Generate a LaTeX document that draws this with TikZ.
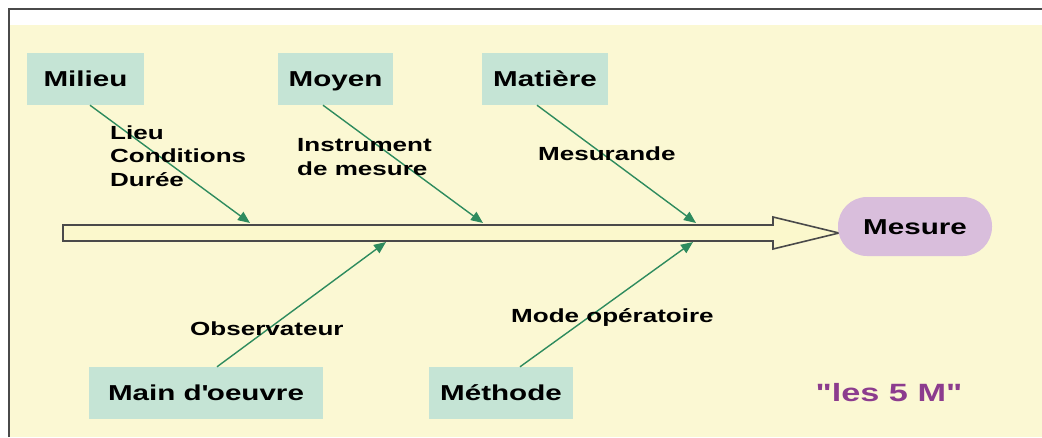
\documentclass[tikz,border=0pt]{standalone}
\usepackage{fontspec}
\usetikzlibrary{arrows.meta}
\newfontfamily\lbl{Liberation Sans}[FakeStretch=1.37]
\definecolor{bgyellow}{HTML}{FBF8D3}
\definecolor{boxfill}{HTML}{C5E4D5}
\definecolor{pillfill}{HTML}{D9BEDC}
\definecolor{linkgreen}{HTML}{2E8B5E}
\definecolor{titlepurple}{HTML}{8C3C8E}
\definecolor{framegray}{HTML}{4A4A4A}
\definecolor{spinefill}{HTML}{FBF8CC}
\begin{document}
\begin{tikzpicture}[x=1pt,y=-1pt,
  cause/.style={fill=boxfill, minimum height=52pt, inner sep=0pt,
    text height=15.5pt, text depth=0pt,
    font=\lbl\bfseries\fontsize{21.6}{26}\selectfont},
  effect/.style={fill=pillfill, rounded corners=29pt, minimum width=154pt,
    minimum height=59pt, inner sep=0pt, text height=15.5pt, text depth=0pt,
    font=\lbl\bfseries\fontsize{21.6}{26}\selectfont},
  note/.style={font=\lbl\bfseries\fontsize{19}{23.5}\selectfont,
    align=left, inner sep=0pt, anchor=base west},
  link/.style={draw=linkgreen, line width=1.4pt,
    -{Triangle[length=12pt,width=10pt]}},
  spine/.style={draw=framegray, line width=1.6pt, fill=spinefill},
]
\useasboundingbox (0,0) rectangle (1042,437);
% page background and frame
\fill[bgyellow] (10,25) rectangle (1042,437);
\draw[framegray, line width=1.8pt] (9,437) -- (9,9) -- (1042,9);

% main spine arrow
\draw[spine] (63,225) -- (773,225) -- (773,217) -- (839,233)
  -- (773,249) -- (773,241) -- (63,241) -- cycle;
\coordinate (tMilieu) at (250,223);
\coordinate (tMoyen) at (483,223);
\coordinate (tMatiere) at (696,223);
\coordinate (tMain) at (386,242);
\coordinate (tMethode) at (693,242);

% causes
\node[cause, minimum width=117pt] (milieu) at (85.5,79) {Milieu};
\node[cause, minimum width=115pt] (moyen) at (335.5,79) {Moyen};
\node[cause, minimum width=126pt] (matiere) at (545,79) {Matière};
\node[cause, minimum width=234pt] (mainoeuvre) at (206,393) {Main d\textquotesingle oeuvre};
\node[cause, minimum width=144pt] (methode) at (501,393) {Méthode};

% effect
\node[effect] (mesure) at (915,226.5) {Mesure};

% branches
\draw[link] ([xshift=4.5pt]milieu.south) -- (tMilieu);
\draw[link] ([xshift=-12.5pt]moyen.south) -- (tMoyen);
\draw[link] ([xshift=-8pt]matiere.south) -- (tMatiere);
\draw[link] ([xshift=11pt]mainoeuvre.north) -- (tMain);
\draw[link] ([xshift=19pt]methode.north) -- (tMethode);

% branch notes (anchored at the baseline of their last line)
\node[note] (nMilieu) at (110,186) {Lieu\\Conditions\\Durée};
\node[note] (nMoyen) at (297,175) {Instrument\\de mesure};
\node[note] (nMatiere) at (538,160) {Mesurande};
\node[note] (nMain) at (190,335) {Observateur};
\node[note] (nMethode) at (511,322) {Mode opératoire};

% caption
\node[text=titlepurple, inner sep=0pt,
  font=\lbl\bfseries\fontsize{25}{30}\selectfont] (caption) at (889,393) {"les 5 M"};
\end{tikzpicture}
\end{document}
